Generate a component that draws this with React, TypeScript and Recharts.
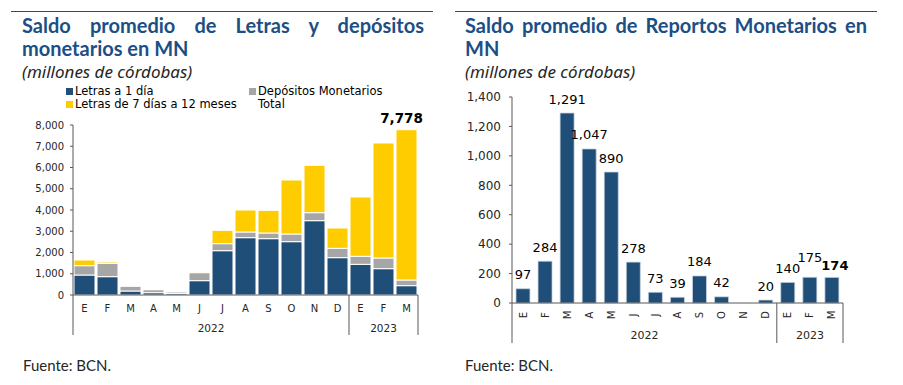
import React from 'react';
import { BarChart, Bar, XAxis, YAxis, LabelList } from 'recharts';

// months and the year group each month belongs to
const months = ['E', 'F', 'M', 'A', 'M', 'J', 'J', 'A', 'S', 'O', 'N', 'D', 'E', 'F', 'M'];
const years = ['2022', '2022', '2022', '2022', '2022', '2022', '2022', '2022', '2022', '2022', '2022', '2022', '2023', '2023', '2023'];

// left chart: saldo promedio de Letras y depósitos monetarios
const letras1Dia = [941, 863, 188, 110, 78, 675, 2086, 2698, 2651, 2510, 3498, 1757, 1443, 1239, 439];
const depositosMonetarios = [439, 627, 220, 141, 63, 376, 330, 267, 267, 360, 376, 439, 377, 502, 267];
const letras7a12 = [267, 63, 0, 31, 0, 31, 627, 1035, 1067, 2542, 2228, 957, 2792, 5412, 7072];
const leftTicks = [0, 1000, 2000, 3000, 4000, 5000, 6000, 7000, 8000];

// right chart: saldo promedio de Reportos Monetarios
const reportos = [97, 284, 1291, 1047, 890, 278, 73, 39, 184, 42, 0, 20, 140, 175, 174];
const rightTicks = [0, 200, 400, 600, 800, 1000, 1200, 1400];

const BLUE = '#1F4E79';
const GRAY = '#A6A6A6';
const YELLOW = '#FFCC00';
const TITLE = '#1B4F86';
const AXIS = '#595959';
const FONT = '"DejaVu Sans", Verdana, sans-serif';
const TITLE_FONT = 'Lato, "Noto Sans", sans-serif';

const lastIdx = months.length - 1;
const fmt = (v: number) => v.toLocaleString('en-US');

const leftData = months.map((m, i) => {
  const total = letras1Dia[i] + depositosMonetarios[i] + letras7a12[i];
  return {
    month: m,
    year: years[i],
    uno: letras1Dia[i],
    dep: depositosMonetarios[i],
    siete: letras7a12[i],
    // only the latest total is labelled
    totalLabel: i === lastIdx ? total : null,
  };
});

// lift a label when it would collide with its left neighbour (both wide, similar height)
const lift: boolean[] = [];
reportos.forEach((v, i) => {
  const wide = fmt(v).length >= 3;
  const prevWide = i > 0 && fmt(reportos[i - 1]).length >= 3;
  lift[i] = i > 0 && wide && prevWide && Math.abs(v - reportos[i - 1]) < 60 && !lift[i - 1];
});

const rightData = months.map((m, i) => ({
  month: m,
  year: years[i],
  reportos: reportos[i],
  normalLabel: i === lastIdx ? null : reportos[i],
  boldLabel: i === lastIdx ? reportos[i] : null,
}));

// two-level category axis: month letter + year group with separators
function makeMonthTick(plotW: number, rotate: boolean, monthDy: number, yearSize: number, lineLen: number, yearDy: number) {
  const bw = plotW / months.length;
  return (props: any) => {
    const { x, y, index, payload } = props;
    const yr = years[index];
    const first = index === 0 || years[index - 1] !== yr;
    const last = index === months.length - 1;
    const count = years.filter((v) => v === yr).length;
    return (
      <g>
        {rotate ? (
          <text
            transform={`translate(${x},${y + monthDy}) rotate(-90)`}
            textAnchor="middle"
            dominantBaseline="central"
            fontSize={10}
            fontFamily={FONT}
            fill="#262626"
          >
            {payload.value}
          </text>
        ) : (
          <text x={x} y={y + monthDy} textAnchor="middle" dominantBaseline="central" fontSize={10} fontFamily={FONT} fill="#262626">
            {payload.value}
          </text>
        )}
        {first && <line x1={x - bw / 2} x2={x - bw / 2} y1={y} y2={y + lineLen} stroke={AXIS} strokeWidth={1} />}
        {first && (
          <text x={x + ((count - 1) * bw) / 2} y={y + yearDy} textAnchor="middle" dominantBaseline="central" fontSize={yearSize} fontFamily={FONT} fill="#262626">
            {yr}
          </text>
        )}
        {last && <line x1={x + bw / 2} x2={x + bw / 2} y1={y} y2={y + lineLen} stroke={AXIS} strokeWidth={1} />}
      </g>
    );
  };
}

const makeBarLabel = (size: number, weight: string, dy: number, dx = 0, useLift = false) => (props: any) => {
  const { x, y, width, value } = props;
  if (value === null || value === undefined) return null;
  const idx = useLift ? reportos.indexOf(value) : -1;
  const extra = useLift && idx >= 0 && lift[idx] ? 6 : 0;
  return (
    <text x={x + width / 2 + dx} y={y - dy - extra} textAnchor="middle" dominantBaseline="central" fontSize={size} fontWeight={weight} fontFamily={FONT} fill="#000">
      {fmt(value)}
    </text>
  );
};

const legendItems = [
  { name: 'Letras a 1 día', color: BLUE },
  { name: 'Depósitos Monetarios', color: GRAY },
  { name: 'Letras de 7 días a 12 meses', color: YELLOW },
  { name: 'Total', color: null },
];

function Title({ line1, line2, left }: { line1: string; line2: string; left: number }) {
  return (
    <div style={{ position: 'absolute', left, top: 14, width: 402, fontFamily: TITLE_FONT }}>
      <div style={{ color: TITLE, fontSize: 20, fontWeight: 700, lineHeight: '23px', textAlign: 'justify', textAlignLast: 'justify', whiteSpace: 'nowrap' }}>{line1}</div>
      <div style={{ color: TITLE, fontSize: 20, fontWeight: 700, lineHeight: '23px' }}>{line2}</div>
      <div style={{ color: '#262626', fontSize: 17, fontStyle: 'italic', fontWeight: 400, lineHeight: '22px', marginTop: 1, fontFamily: '"Noto Sans", sans-serif' }}>
        (millones de córdobas)
      </div>
    </div>
  );
}

export default function App() {
  const leftW = 440;
  const leftMargin = { top: 125, right: 22, left: 0, bottom: 5 };
  const leftYW = 73;
  const leftPlotW = leftW - leftMargin.left - leftMargin.right - leftYW;

  const rightW = 420;
  const rightMargin = { top: 97, right: 17, left: 0, bottom: 2 };
  const rightYW = 72;
  const rightPlotW = rightW - rightMargin.left - rightMargin.right - rightYW;

  return (
    <div style={{ position: 'absolute', left: 0, top: 0, width: 903, height: 385, background: '#fff', overflow: 'hidden' }}>
      <div style={{ position: 'absolute', left: 11, top: 11, width: 422, height: 1, background: TITLE }} />
      <div style={{ position: 'absolute', left: 455, top: 11, width: 422, height: 1, background: TITLE }} />
      <Title line1="Saldo promedio de Letras y depósitos" line2="monetarios en MN" left={22} />
      <Title line1="Saldo promedio de Reportos Monetarios en" line2="MN" left={465} />

      <div style={{ position: 'absolute', left: 66, top: 85, width: 360, display: 'grid', gridTemplateColumns: '183px 177px', fontFamily: FONT, fontSize: 11.5, lineHeight: '13px', color: '#000' }}>
        {legendItems.map((it) => (
          <div key={it.name} style={{ display: 'flex', alignItems: 'center', whiteSpace: 'nowrap' }}>
            <span style={{ display: 'inline-block', width: 7, height: 7, background: it.color || 'transparent', marginRight: 2 }} />
            {it.name}
          </div>
        ))}
      </div>

      <div style={{ position: 'absolute', left: 0, top: 0 }}>
        <BarChart width={leftW} height={345} data={leftData} margin={leftMargin} barCategoryGap={1}>
          <YAxis
            width={leftYW}
            domain={[0, 8000]}
            ticks={leftTicks}
            tickFormatter={fmt}
            tickSize={3}
            tickMargin={6}
            axisLine={{ stroke: AXIS }}
            tickLine={{ stroke: AXIS }}
            tick={{ fontSize: 10, fontFamily: FONT, fill: '#262626' }}
            interval={0}
          />
          <XAxis
            dataKey="month"
            height={45}
            interval={0}
            tickLine={false}
            tickSize={0}
            tickMargin={0}
            axisLine={{ stroke: AXIS }}
            tick={makeMonthTick(leftPlotW, false, 13, 10.5, 40, 33)}
          />
          <Bar dataKey="uno" stackId="a" fill={BLUE} stroke="#fff" strokeWidth={1} isAnimationActive={false} />
          <Bar dataKey="dep" stackId="a" fill={GRAY} stroke="#fff" strokeWidth={1} isAnimationActive={false} />
          <Bar dataKey="siete" stackId="a" fill={YELLOW} stroke="#fff" strokeWidth={1} isAnimationActive={false}>
            <LabelList dataKey="totalLabel" content={makeBarLabel(13.5, 'bold', 12, -5)} />
          </Bar>
        </BarChart>
      </div>

      <div style={{ position: 'absolute', left: 440, top: 0 }}>
        <BarChart width={rightW} height={350} data={rightData} margin={rightMargin} barCategoryGap="18%">
          <YAxis
            width={rightYW}
            domain={[0, 1400]}
            ticks={rightTicks}
            tickFormatter={fmt}
            tickSize={3}
            tickMargin={8}
            axisLine={{ stroke: AXIS }}
            tickLine={{ stroke: AXIS }}
            tick={{ fontSize: 12, fontFamily: FONT, fill: '#262626' }}
            interval={0}
          />
          <XAxis
            dataKey="month"
            height={45}
            interval={0}
            tickLine={false}
            tickSize={0}
            tickMargin={0}
            axisLine={{ stroke: AXIS }}
            tick={makeMonthTick(rightPlotW, true, 12, 11, 40, 32)}
          />
          <Bar dataKey="reportos" fill={BLUE} stroke="#c9d4df" strokeWidth={0.75} isAnimationActive={false}>
            <LabelList dataKey="normalLabel" content={makeBarLabel(13, 'normal', 14, 0, true)} />
            <LabelList dataKey="boldLabel" content={makeBarLabel(13, 'bold', 12, 3)} />
          </Bar>
        </BarChart>
      </div>

      <div style={{ position: 'absolute', left: 23, top: 356, fontFamily: TITLE_FONT, fontSize: 15, color: '#262626' }}>Fuente: BCN.</div>
      <div style={{ position: 'absolute', left: 465, top: 356, fontFamily: TITLE_FONT, fontSize: 15, color: '#262626' }}>Fuente: BCN.</div>
    </div>
  );
}
